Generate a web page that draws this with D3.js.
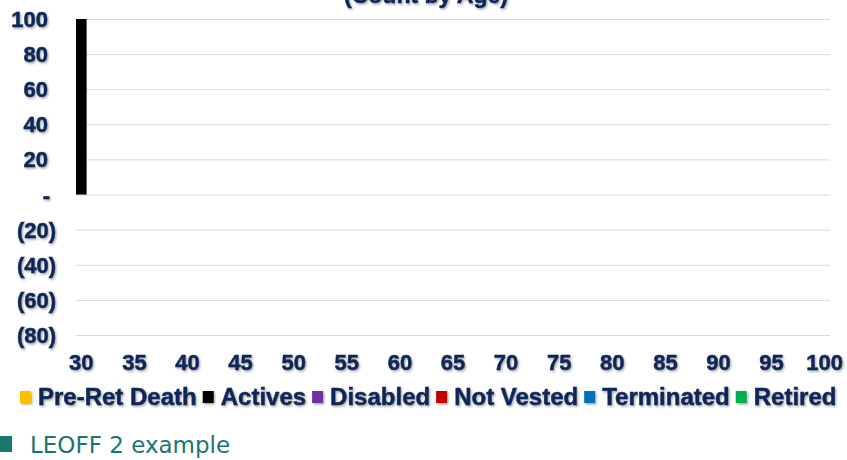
<!DOCTYPE html>
<html>
<head>
<meta charset="utf-8">
<script src="https://cdn.jsdelivr.net/npm/d3@7"></script>
<style>
  html, body { margin: 0; padding: 0; background: #fff; }
  svg { display: block; }
</style>
</head>
<body>
<div id="chart"></div>
<script>
// ages 30..100 (one bar per age)
const ages = d3.range(30, 101);
const xTickLabels = [30, 35, 40, 45, 50, 55, 60, 65, 70, 75, 80, 85, 90, 95, 100];
const yTickValues = [-80, -60, -40, -20, 0, 20, 40, 60, 80, 100];

const seriesNames = ['Pre-Ret Death', 'Actives', 'Disabled', 'Not Vested', 'Terminated', 'Retired'];
const seriesColors = ['#ffc000', '#000000', '#7030a0', '#c00000', '#0070c0', '#00b050'];

// counts by age, index 0 = age 30 ... index 70 = age 100
const preRetDeath = [0,0,0,0,0,0,0,0,0,0, 0,0,0,0,0,0,0,0,0,0, 0,0,0,0,0,0,0,0,0,0, 0,0,0,0,0,0,0,0,0,0, 0,0,0,0,0,0,0,0,0,0, 0,0,0,0,0,0,0,0,0,0, 0,0,0,0,0,0,0,0,0,0, 0];
const actives     = [100,0,0,0,0,0,0,0,0,0, 0,0,0,0,0,0,0,0,0,0, 0,0,0,0,0,0,0,0,0,0, 0,0,0,0,0,0,0,0,0,0, 0,0,0,0,0,0,0,0,0,0, 0,0,0,0,0,0,0,0,0,0, 0,0,0,0,0,0,0,0,0,0, 0];
const disabled    = [0,0,0,0,0,0,0,0,0,0, 0,0,0,0,0,0,0,0,0,0, 0,0,0,0,0,0,0,0,0,0, 0,0,0,0,0,0,0,0,0,0, 0,0,0,0,0,0,0,0,0,0, 0,0,0,0,0,0,0,0,0,0, 0,0,0,0,0,0,0,0,0,0, 0];
const notVested   = [0,0,0,0,0,0,0,0,0,0, 0,0,0,0,0,0,0,0,0,0, 0,0,0,0,0,0,0,0,0,0, 0,0,0,0,0,0,0,0,0,0, 0,0,0,0,0,0,0,0,0,0, 0,0,0,0,0,0,0,0,0,0, 0,0,0,0,0,0,0,0,0,0, 0];
const terminated  = [0,0,0,0,0,0,0,0,0,0, 0,0,0,0,0,0,0,0,0,0, 0,0,0,0,0,0,0,0,0,0, 0,0,0,0,0,0,0,0,0,0, 0,0,0,0,0,0,0,0,0,0, 0,0,0,0,0,0,0,0,0,0, 0,0,0,0,0,0,0,0,0,0, 0];
const retired     = [0,0,0,0,0,0,0,0,0,0, 0,0,0,0,0,0,0,0,0,0, 0,0,0,0,0,0,0,0,0,0, 0,0,0,0,0,0,0,0,0,0, 0,0,0,0,0,0,0,0,0,0, 0,0,0,0,0,0,0,0,0,0, 0,0,0,0,0,0,0,0,0,0, 0];

const seriesValues = [preRetDeath, actives, disabled, notVested, terminated, retired];

const width = 847, height = 460;
const navy = '#0e2858';
const font = '"Liberation Sans", Arial, sans-serif';

const svg = d3.select('#chart').append('svg')
  .attr('width', width)
  .attr('height', height);

// soft shadow like the slide text
const defs = svg.append('defs');
defs.append('filter')
  .attr('id', 'shadow')
  .attr('x', '-10%').attr('y', '-20%')
  .attr('width', '130%').attr('height', '160%')
  .append('feDropShadow')
    .attr('dx', 1.2).attr('dy', 1.5)
    .attr('stdDeviation', 0.9)
    .attr('flood-color', '#000')
    .attr('flood-opacity', 0.35);

// bold navy label style (slightly heavier than plain bold)
function boldLabel(sel, size) {
  sel.attr('font-family', font)
    .attr('font-weight', 'bold')
    .attr('font-size', size)
    .attr('fill', navy)
    .attr('stroke', navy)
    .attr('stroke-width', 0.5)
    .attr('filter', 'url(#shadow)');
}

// table for the stack
const table = ages.map((age, i) => {
  const row = {age: age};
  seriesNames.forEach((name, s) => { row[name] = seriesValues[s][i]; });
  return row;
});

const x = d3.scaleBand().domain(ages).range([76, 830]).padding(0);
const y = d3.scaleLinear().domain([-80, 100]).range([335, 19]);
const color = d3.scaleOrdinal(seriesNames, seriesColors);

// Title (cut off at the top in the original)
svg.append('text')
  .attr('x', 426)
  .attr('y', 3)
  .attr('text-anchor', 'middle')
  .call(boldLabel, 23)
  .text('(Count by Age)');

// Y Axis with grid lines
const yFormat = v => v === 0 ? '-' : (v < 0 ? '(' + Math.abs(v) + ')' : String(v));
const yAxis = d3.axisLeft(y)
  .tickValues(yTickValues)
  .tickFormat(yFormat)
  .tickSizeInner(-(830 - 76))
  .tickSizeOuter(0);

const gy = svg.append('g')
  .attr('class', 'axis axis--y')
  .attr('transform', 'translate(76,0)')
  .call(yAxis);
gy.select('.domain').remove();
gy.selectAll('.tick line')
  .attr('stroke', '#d9d9d9')
  .attr('stroke-width', 1);
gy.selectAll('.tick text')
  .attr('x', d => d > 0 ? -28 : (d === 0 ? -26 : -20))
  .attr('dy', '0.34em')
  .call(boldLabel, 22);

// Stacked bars
const stack = d3.stack()
  .keys(seriesNames)
  .offset(d3.stackOffsetDiverging);

svg.append('g')
  .attr('class', 'bars')
  .selectAll('g')
  .data(stack(table))
  .enter().append('g')
    .attr('fill', d => color(d.key))
  .selectAll('rect')
  .data(d => d)
  .enter().append('rect')
    .attr('x', d => x(d.data.age))
    .attr('width', x.bandwidth())
    .attr('y', d => y(Math.max(d[0], d[1])))
    .attr('height', d => Math.abs(y(d[0]) - y(d[1])));

// X Axis labels
const xAxis = d3.axisBottom(x)
  .tickValues(xTickLabels)
  .tickSize(0);

const gx = svg.append('g')
  .attr('class', 'axis axis--x')
  .attr('transform', 'translate(0,349)')
  .call(xAxis);
gx.select('.domain').remove();
gx.selectAll('.tick text')
  .attr('y', 0)
  .attr('dy', '0.95em')
  .call(boldLabel, 22);

// Legend
const legend = svg.append('g')
  .attr('class', 'legends')
  .attr('transform', 'translate(20,405)');

let lx = 0;
seriesNames.forEach(name => {
  const item = legend.append('g')
    .attr('class', 'legend')
    .attr('transform', 'translate(' + lx + ',0)');
  item.append('rect')
    .attr('x', 0)
    .attr('y', -14)
    .attr('width', 11)
    .attr('height', 12)
    .attr('fill', color(name))
    .attr('filter', 'url(#shadow)');
  const t = item.append('text')
    .attr('x', 18)
    .attr('y', 0)
    .call(boldLabel, 24)
    .text(name);
  lx += 18 + t.node().getComputedTextLength() + 6;
});

// slide bullet below the chart
svg.append('rect')
  .attr('x', 0)
  .attr('y', 436)
  .attr('width', 12)
  .attr('height', 16)
  .attr('fill', '#167a6e');

svg.append('text')
  .attr('x', 30)
  .attr('y', 453)
  .attr('font-family', '"DejaVu Sans", Verdana, sans-serif')
  .attr('font-size', 23)
  .attr('fill', '#1b7672')
  .text('LEOFF 2 example');
</script>
</body>
</html>
